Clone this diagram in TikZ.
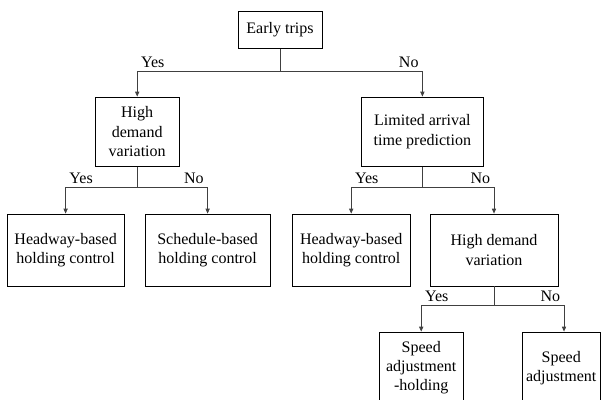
\documentclass[tikz,border=0pt]{standalone}
\usepackage{fontspec}
\setmainfont{Liberation Serif}
\usepackage{tikz}
\usetikzlibrary{arrows.meta}

\begin{document}
\begin{tikzpicture}[
  font=\fontsize{11.4}{13.6}\selectfont,
  box/.style={draw, line width=0.6pt, inner sep=0pt, align=center},
  line/.style={draw=black!75, line width=0.5pt},
  arr/.style={line, -{Triangle[length=3.5pt, width=3pt]}},
  lbl/.style={inner sep=2.5pt}
]
\useasboundingbox (0,0) rectangle (15.075,-10.0);

% Root
\node[box, minimum width=2.1cm, minimum height=0.93cm] (early) at (7.0,-0.74) {Early trips};

% Second level
\node[box, minimum width=2.1cm, minimum height=1.73cm] (hdvA) at (3.43,-3.29) {High\\demand\\variation};
\node[box, minimum width=3.03cm, minimum height=1.73cm] (lim) at (10.56,-3.29) {Limited arrival\\time prediction};

% Third level
\node[box, minimum width=2.93cm, minimum height=1.8cm] (hwA) at (1.64,-6.25) {Headway-based\\holding control};
\node[box, minimum width=3.13cm, minimum height=1.8cm] (sched) at (5.19,-6.25) {Schedule-based\\holding control};
\node[box, minimum width=2.95cm, minimum height=1.8cm] (hwB) at (8.78,-6.25) {Headway-based\\holding control};
\node[box, minimum width=3.2cm, minimum height=1.8cm] (hdvB) at (12.35,-6.25) {High demand\\variation};

% Fourth level
\node[box, minimum width=2.1cm, minimum height=1.8cm] (sah) at (10.53,-9.2) {Speed\\adjustment\\-holding};
\node[box, minimum width=1.95cm, minimum height=1.8cm] (sa) at (14.03,-9.2) {Speed\\adjustment};

% Connectors
\draw[line] (early.south) -- ++(0,-0.575) coordinate (s1);
\draw[arr] (s1) -| node[lbl, above right] {Yes} (hdvA.north);
\draw[arr] (s1) -| node[lbl, above left] {No} (lim.north);

\draw[line] (hdvA.south) -- ++(0,-0.53) coordinate (s2);
\draw[arr] (s2) -| node[lbl, above right] {Yes} (hwA.north);
\draw[arr] (s2) -| node[lbl, above left] {No} (sched.north);

\draw[line] (lim.south) -- ++(0,-0.53) coordinate (s3);
\draw[arr] (s3) -| node[lbl, above right] {Yes} (hwB.north);
\draw[arr] (s3) -| node[lbl, above left] {No} (hdvB.north);

\draw[line] (hdvB.south) -- ++(0,-0.48) coordinate (s4);
\draw[arr] (s4) -| node[lbl, above right] {Yes} (sah.north);
\draw[arr] (s4) -| node[lbl, above left] {No} ([xshift=2pt]sa.north);
\end{tikzpicture}
\end{document}
